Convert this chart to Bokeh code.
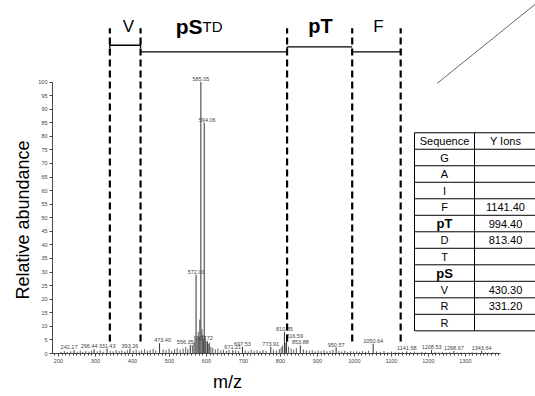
from bokeh.plotting import figure
from bokeh.models import Range1d, Label, FixedTicker, ColumnDataSource, Title
from bokeh.embed import file_html
from bokeh.resources import INLINE
from bokeh.core.properties import value

# ---------------- data ----------------
peak_mz = [242.17, 296.44, 331.43, 393.26, 473.40, 556.35, 572.00, 585.05, 594.06,
           602.72, 671.21, 697.53, 773.91, 810.85, 816.59, 853.88, 950.57, 1050.64,
           1141.58, 1208.53, 1268.67, 1343.64]
peak_int = [1.2, 1.5, 1.8, 1.8, 3.8, 3.2, 29.0, 100.0, 85.0,
            4.5, 1.2, 2.5, 2.4, 8.0, 5.2, 3.0, 2.2, 3.6,
            0.8, 1.3, 0.9, 0.9]
peak_label_dx = [-5, -5, 0, 0, 3, -5, 0, 0, 3,
                 -3, 0, 0, 0, 0, 8, 0, 0, 0,
                 0, 0, 0, 0]

minor_mz = [207, 216, 224, 233, 251, 259, 266, 274, 283, 290,
            305, 313, 321, 340, 348, 356, 364, 371, 379, 386,
            402, 410, 418, 425, 433, 441, 448, 456, 463, 483,
            491, 499, 506, 514, 521, 529, 537, 544, 550, 562,
            566, 569, 575, 578, 580, 582, 588, 590, 592, 597,
            599, 605, 608, 612, 617, 624, 631, 639, 646, 654,
            661, 679, 687, 705, 713, 721, 729, 737, 745, 753,
            761, 781, 789, 797, 802, 806, 813, 822, 829, 836,
            843, 862, 870, 878, 886, 894, 902, 910, 918, 926,
            934, 942, 958, 966, 974, 982, 990, 998, 1006, 1014,
            1022, 1030, 1038, 1060, 1070, 1080, 1090, 1100, 1110, 1120,
            1130, 1152, 1162, 1172, 1182, 1192, 1218, 1228, 1238, 1248,
            1258, 1278, 1288, 1298, 1308, 1318, 1328, 1354, 1364, 1374,
            1384]
minor_int = [0.6, 0.9, 0.5, 0.8, 0.7, 1.0, 0.6, 0.9, 0.7, 1.1,
             0.8, 1.2, 0.7, 1.0, 0.8, 1.3, 0.9, 1.1, 0.7, 1.2,
             1.0, 1.4, 0.8, 1.2, 1.6, 1.0, 1.3, 1.7, 1.1, 1.5,
             1.2, 1.8, 1.0, 1.6, 2.0, 1.4, 1.8, 2.4, 1.6, 3.0,
             4.0, 6.5, 5.5, 8.0, 6.0, 12.5, 9.0, 7.0, 5.0, 6.5,
             4.5, 3.5, 4.0, 2.5, 2.0, 1.5, 1.8, 1.2, 1.4, 1.0,
             1.3, 1.1, 0.9, 1.2, 0.8, 1.4, 1.0, 1.2, 0.9, 1.3,
             1.0, 1.4, 1.1, 1.6, 2.2, 3.0, 4.0, 2.5, 1.8, 1.4,
             2.0, 1.5, 1.2, 1.0, 1.3, 0.8, 1.1, 0.9, 1.2, 0.8,
             1.0, 1.4, 0.9, 0.7, 1.1, 0.6, 0.9, 0.7, 0.8, 0.6,
             0.9, 0.6, 1.0, 0.8, 0.6, 0.9, 0.5, 0.7, 0.6, 0.5,
             0.6, 0.5, 0.7, 0.4, 0.6, 0.5, 0.6, 0.4, 0.5, 0.4,
             0.5, 0.4, 0.5, 0.3, 0.4, 0.5, 0.3, 0.4, 0.3, 0.4,
             0.3]

# fragment boundaries as drawn in the figure (m/z on the axis scale)
fragment_bounds = [339, 422, 818, 994, 1125]
fragment_labels = ["V", "pS", "TD", "pT", "F"]

table_header = ["Sequence", "Y Ions"]
table_sequence = ["G", "A", "I", "F", "pT", "D", "T", "pS", "V", "R", "R"]
table_yions = ["", "", "", "1141.40", "994.40", "813.40", "", "", "430.30", "331.20", ""]

x_ticks = [200, 300, 400, 500, 600, 700, 800, 900, 1000, 1100, 1200, 1300]
y_ticks = list(range(0, 101, 5))

# ---------------- layout helpers ----------------
W, H = 535, 396
FL, FB = 52, 355          # frame left / bottom in px
XMIN, SX = 184.0, 0.37    # data at frame left, px per m/z unit
SY = 2.73                 # px per % abundance
XMAX = XMIN + (W - FL) / SX
YMAX = FB / SY


def px2x(px):
    return XMIN + (px - FL) / SX


def py2y(py):
    return (FB - py) / SY


FONT = "Liberation Sans"

p = figure(width=W, height=H, x_range=Range1d(XMIN, XMAX), y_range=Range1d(0, YMAX),
           output_backend="svg", toolbar_location=None,
           min_border_left=FL, min_border_right=0, min_border_top=0,
           min_border_bottom=H - FB)
p.outline_line_color = None
p.xgrid.visible = False
p.ygrid.visible = False
p.background_fill_color = "white"
p.border_fill_color = "white"

# axes
xa = p.xaxis[0]
xa.ticker = FixedTicker(ticks=x_ticks, minor_ticks=list(range(190, 1400, 10)))
xa.bounds = (XMIN, 1395)
xa.major_label_text_font_size = "5.5px"
xa.major_label_text_font = FONT
xa.major_label_text_color = "#444444"
xa.axis_line_color = "#444444"
xa.major_tick_line_color = "#444444"
xa.minor_tick_line_color = "#444444"
xa.major_tick_out = 3
xa.major_tick_in = 0
xa.minor_tick_out = 2
xa.minor_tick_in = 0
xa.major_label_standoff = 2

ya = p.yaxis[0]
ya.ticker = FixedTicker(ticks=y_ticks, minor_ticks=[])
ya.bounds = (0, 100)
ya.major_label_text_font_size = "5.5px"
ya.major_label_text_font = FONT
ya.major_label_text_color = "#444444"
ya.axis_line_color = "#444444"
ya.major_tick_line_color = "#444444"
ya.major_tick_out = 3
ya.major_tick_in = 0
ya.major_label_standoff = 2

# axis titles (side titles, shifted along the side like the reference)
YT_FS, XT_FS = 18, 18
yt_len = 8.9 * YT_FS
p.add_layout(Title(text="Relative abundance", align="left",
                   offset=FB - (221 + yt_len / 2), standoff=6,
                   text_font=FONT, text_font_size="%dpx" % YT_FS,
                   text_font_style="normal", text_color="black"), "left")
xt_w = 1.61 * XT_FS
p.add_layout(Title(text="m/z", align="left", offset=(227 - xt_w / 2) - FL, standoff=9,
                   text_font=FONT, text_font_size="%dpx" % XT_FS,
                   text_font_style="normal", text_color="black"), "below")

# spectrum
p.segment(x0=minor_mz, y0=[0] * len(minor_mz), x1=minor_mz, y1=minor_int,
          line_color="#333333", line_width=0.8)
p.segment(x0=peak_mz, y0=[0] * len(peak_mz), x1=peak_mz, y1=peak_int,
          line_color="#333333", line_width=1)

lab_src = ColumnDataSource(dict(x=peak_mz, y=peak_int,
                                t=["%.2f" % m for m in peak_mz],
                                dx=peak_label_dx))
p.text(x="x", y="y", text="t", source=lab_src, x_offset="dx", y_offset=-1,
       text_align="center", text_baseline="bottom", text_font=value(FONT),
       text_font_size="5.5px", text_color="#444444")

# dashed fragment lines
dash_top, dash_bot = py2y(28), py2y(343)
nb = len(fragment_bounds)
p.segment(x0=fragment_bounds, y0=[dash_bot] * nb, x1=fragment_bounds, y1=[dash_top] * nb,
          line_color="black", line_width=2.2, line_dash="7 4")

# brackets at the top
b = fragment_bounds
yv, yl, yh = py2y(45), py2y(51.7), py2y(46.7)
cap = 3 / SY
p.segment(x0=[b[0], b[1], b[2], b[3]], y0=[yv, yl, yh, yl],
          x1=[b[1], b[2], b[3], b[4]], y1=[yv, yl, yh, yl],
          line_color="black", line_width=1.3)
p.segment(x0=[b[0], b[1], b[2], b[3], b[4]],
          y0=[yv - cap, yv - cap, yl, yl - cap, yl - cap],
          x1=[b[0], b[1], b[2], b[3], b[4]],
          y1=[yv + cap, yv + cap, yh, yl + cap, yl + cap],
          line_color="black", line_width=1.3)

top_style = [(128, 26, "17px", "normal", "center"),
             (202, 26, "21px", "bold", "right"),
             (202, 26, "15px", "normal", "left"),
             (320, 26, "20px", "bold", "center"),
             (378, 26, "17px", "normal", "center")]
for t, (px, py, fs, fw, al) in zip(fragment_labels, top_style):
    p.add_layout(Label(x=px2x(px), y=py2y(py), text=t, text_font=FONT,
                       text_font_size=fs, text_font_style=fw, text_align=al,
                       text_baseline="alphabetic", text_color="black"))

# decorative diagonal line top right
p.line(x=[px2x(436.7), px2x(540)], y=[py2y(83.3), py2y(-0.5)],
       line_color="#666666", line_width=1)

# ion table
T_L, T_M, T_R, T_TOP, ROW = 414, 474, 537, 133, 16.6
n_rows = len(table_sequence) + 1
T_BOT = T_TOP + ROW * n_rows
p.quad(left=px2x(T_L), right=px2x(T_R), top=py2y(T_TOP), bottom=py2y(T_BOT),
       fill_color="white", line_color="black", line_width=1)
hl_y = [py2y(T_TOP + ROW * k) for k in range(1, n_rows)]
p.segment(x0=[px2x(T_L)] * len(hl_y), y0=hl_y, x1=[px2x(T_R)] * len(hl_y), y1=hl_y,
          line_color="black", line_width=1)
p.segment(x0=[px2x(T_M)], y0=[py2y(T_TOP)], x1=[px2x(T_M)], y1=[py2y(T_BOT)],
          line_color="black", line_width=1)

c1, c2 = (T_L + T_M) / 2, (T_M + T_R) / 2 - 0.5
rows = [table_header] + [[s, v] for s, v in zip(table_sequence, table_yions)]
for k, (s, v) in enumerate(rows):
    cy = py2y(T_TOP + ROW * (k + 0.5))
    bold = s in ("pT", "pS")
    p.add_layout(Label(x=px2x(c1), y=cy, text=s, text_font=FONT,
                       text_font_size="13px" if bold else "11px",
                       text_font_style="bold" if bold else "normal",
                       text_align="center", text_baseline="middle", text_color="black"))
    if v:
        p.add_layout(Label(x=px2x(c2), y=cy, text=v, text_font=FONT,
                           text_font_size="11px", text_align="center",
                           text_baseline="middle", text_color="black"))

open("out.html", "w").write(file_html(p, INLINE))
